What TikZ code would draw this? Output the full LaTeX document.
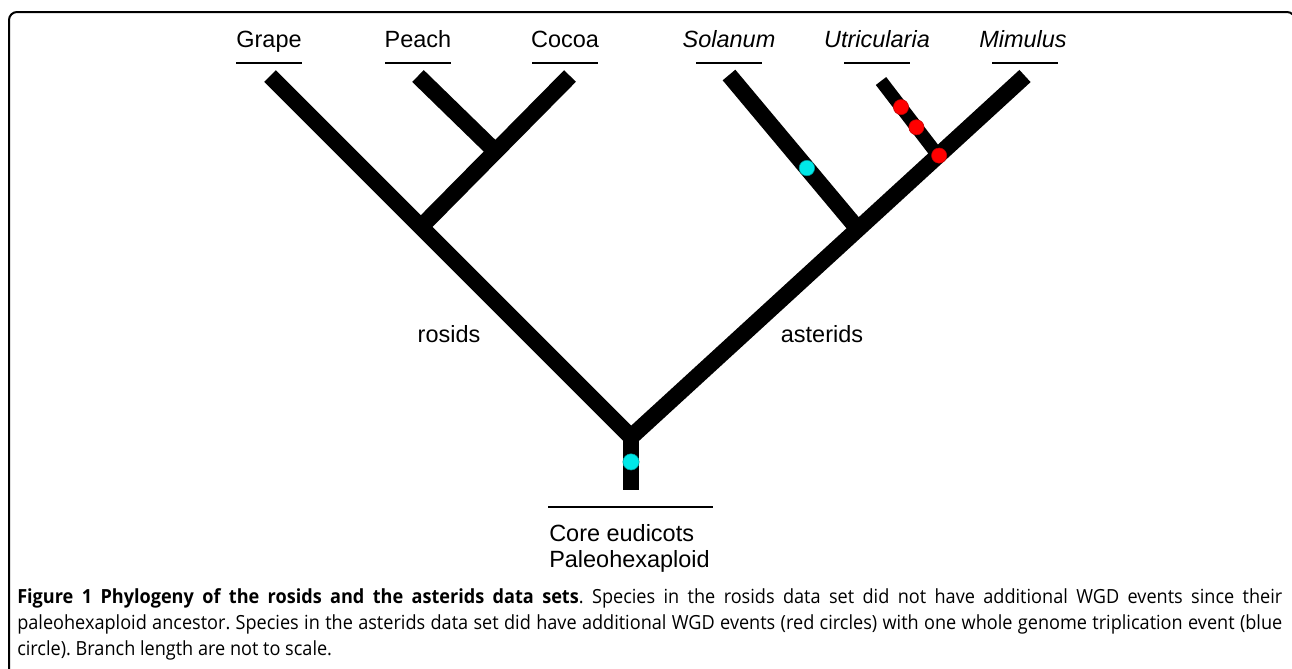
\documentclass[tikz,border=0pt]{standalone}
\usepackage{fontspec}
\setmainfont{Liberation Sans}
\newfontfamily\capfont[FakeStretch=0.93]{Open Sans}
\usetikzlibrary{calc}
\definecolor{wgdred}{RGB}{255,0,0}
\definecolor{wgtcyan}{RGB}{0,232,232}
\tikzset{
  branch/.style={line width=12.4pt, line join=miter, line cap=butt},
  thinbranch/.style={line width=9.8pt, line cap=butt},
  lab/.style={font=\fontsize{17.6pt}{20pt}\selectfont, anchor=base, inner sep=0pt},
  itlab/.style={lab, font=\fontsize{17.6pt}{20pt}\selectfont\itshape},
  uline/.style={line width=1.2pt},
  redev/.style={circle, fill=wgdred, draw=wgdred!75!black, line width=0.4pt, minimum size=11.4pt, inner sep=0pt},
  cyanev/.style={circle, fill=wgtcyan, draw=wgtcyan!65!black, line width=0.4pt, minimum size=11.6pt, inner sep=0pt},
  capline/.style={font=\capfont\fontsize{14.6pt}{19.5pt}\selectfont\frenchspacing, anchor=base west, inner sep=0pt},
  frame/.style={line width=1.5pt, rounded corners=6pt}
}
\begin{document}
\begin{tikzpicture}[x=0.75pt, y=-0.75pt]
\useasboundingbox (0,0) rectangle (1292,668);
% frame
\draw[frame] (9,680) -- (9,12) -- (1295,12) -- (1295,680);

% tree coordinates
\coordinate (G) at (270,76);
\coordinate (P) at (418,76);
\coordinate (Co) at (570,76);
\coordinate (S) at (729,75);
\coordinate (U) at (881,81);
\coordinate (M) at (1025,76);
\coordinate (R) at (631,437);
\coordinate (Rb) at (631,490);
\coordinate (Rn) at ($(R)!0.582!(G)$);
\coordinate (A) at ($(R)!0.576!(M)$);
\coordinate (Pj) at ($(Rn)!0.5!(Co)$);
\coordinate (J) at ($(A)!0.48!(M)$);

% branches
\draw[branch] (G) -- (R) -- (M);
\draw[branch] (R) -- (Rb);
\draw[branch] (Rn) -- (Co);
\draw[branch] (Pj) -- (P);
\draw[branch] (A) -- (S);
\draw[thinbranch] (J) -- (U);

% events
\node[cyanev, minimum size=12.2pt] (e0) at ($(R)!0.47!(Rb)$) {};
\node[cyanev] (e1) at ($(A)!0.396!(S)$) {};
\node[redev] (r1) at ($(U)!0.35!(J)$) {};
\node[redev] (r2) at ($(U)!0.62!(J)$) {};
\node[redev] (r3) at ($(J)+(1,0)$) {};

% leaf labels
\node[lab] (lG) at (269,47) {Grape};
\node[lab] (lP) at (418,47) {Peach};
\node[lab] (lC) at (565,47) {Cocoa};
\node[itlab] (lS) at (729,47) {Solanum};
\node[itlab] (lU) at (877,47) {Utricularia};
\node[itlab] (lM) at (1023,47) {Mimulus};
\foreach \c in {269,418,565,729,877,1025}
  \draw[uline] (\c-33,63) -- (\c+33,63);

% clade labels
\node[lab] (ros) at (449,342) {rosids};
\node[lab] (ast) at (822,342) {asterids};

% root label
\draw[uline] (548,507) -- (713,507);
\node[lab, anchor=base west] (core) at (549,541) {Core eudicots};
\node[lab, anchor=base west] (paleo) at (549,567) {Paleohexaploid};

% caption
\node[capline] (c1) at (17,603) {\makebox[948.75pt][s]{\textbf{Figure 1 Phylogeny of the rosids and the asterids data sets}. Species in the rosids data set did not have additional WGD events since their}};
\node[capline] (c2) at (17,629) {\makebox[948.75pt][s]{paleohexaploid ancestor. Species in the asterids data set did have additional WGD events (red circles) with one whole genome triplication event (blue}};
\node[capline] (c3) at (17,655) {circle). Branch length are not to scale.};
\end{tikzpicture}
\end{document}
